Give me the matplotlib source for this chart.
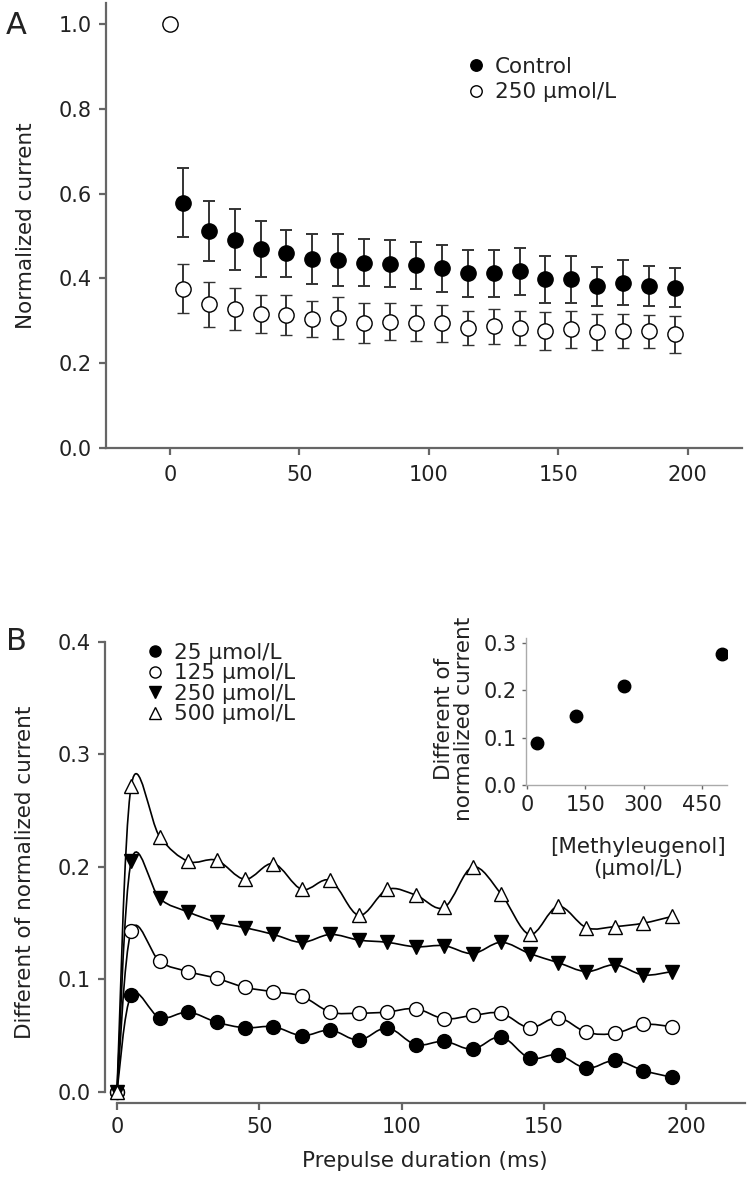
import numpy as np
import matplotlib.pyplot as plt
from matplotlib.path import Path
from matplotlib.patches import PathPatch

# panel A: normalized current vs prepulse duration
t_ctrl = np.arange(5, 200, 10)
ctrl = [0.579, 0.512, 0.491, 0.470, 0.459, 0.446, 0.443, 0.437, 0.435, 0.431,
        0.424, 0.412, 0.412, 0.417, 0.398, 0.398, 0.382, 0.390, 0.382, 0.378]
ctrl_err = [0.081, 0.071, 0.072, 0.066, 0.056, 0.059, 0.061, 0.055, 0.055, 0.056,
            0.056, 0.056, 0.056, 0.055, 0.056, 0.055, 0.046, 0.053, 0.047, 0.046]
t_drug = np.concatenate([[0], np.arange(5, 200, 10)])
drug = [1.0, 0.376, 0.339, 0.328, 0.317, 0.314, 0.305, 0.307, 0.295, 0.298, 0.295,
        0.294, 0.283, 0.287, 0.283, 0.276, 0.280, 0.274, 0.276, 0.275, 0.268]
drug_err = [0, 0.057, 0.053, 0.049, 0.045, 0.047, 0.043, 0.049, 0.047, 0.044, 0.042,
            0.044, 0.041, 0.042, 0.041, 0.045, 0.044, 0.042, 0.041, 0.039, 0.044]

# panel B: difference of normalized current
t_b = np.concatenate([[0], np.arange(5, 200, 10)])
b25 = [0, 0.086, 0.066, 0.071, 0.062, 0.057, 0.058, 0.050, 0.055, 0.046, 0.057,
       0.042, 0.045, 0.038, 0.049, 0.030, 0.033, 0.021, 0.028, 0.019, 0.013]
b125 = [0, 0.143, 0.116, 0.107, 0.101, 0.093, 0.089, 0.085, 0.071, 0.070, 0.071,
        0.074, 0.065, 0.068, 0.070, 0.057, 0.066, 0.053, 0.052, 0.060, 0.058]
b250 = [0, 0.205, 0.172, 0.160, 0.151, 0.146, 0.140, 0.133, 0.140, 0.135, 0.133,
        0.129, 0.130, 0.123, 0.133, 0.123, 0.115, 0.107, 0.113, 0.104, 0.107]
b500 = [0, 0.272, 0.227, 0.205, 0.206, 0.189, 0.203, 0.180, 0.188, 0.157, 0.180,
        0.175, 0.164, 0.200, 0.176, 0.140, 0.165, 0.146, 0.147, 0.150, 0.156]
b_labels = ['25 µmol/L', '125 µmol/L', '250 µmol/L', '500 µmol/L']

# inset
conc = [25, 125, 250, 500]
diff = [0.089, 0.146, 0.209, 0.277]

TICK = 15
LAB = 15.5
LEG = 15.5
SPINE = '#666666'
TXT = '#222222'

plt.rcParams['font.family'] = ['DejaVu Sans']
plt.rcParams['text.color'] = TXT
plt.rcParams['axes.labelcolor'] = TXT
plt.rcParams['xtick.color'] = SPINE
plt.rcParams['ytick.color'] = SPINE
plt.rcParams['xtick.labelcolor'] = TXT
plt.rcParams['ytick.labelcolor'] = TXT


def smooth_path(x, y):
    # Catmull-Rom style bezier through the data points
    pts = np.column_stack([x, y])
    verts = [pts[0]]
    codes = [Path.MOVETO]
    n = len(pts)
    for i in range(n - 1):
        p0 = pts[max(i - 1, 0)]
        p1 = pts[i]
        p2 = pts[i + 1]
        p3 = pts[min(i + 2, n - 1)]
        verts += [p1 + (p2 - p0) / 6, p2 - (p3 - p1) / 6, p2]
        codes += [Path.CURVE4] * 3
    return Path(verts, codes)


def style(ax, lw=1.6, color=SPINE):
    for s in ['top', 'right']:
        ax.spines[s].set_visible(False)
    for s in ['left', 'bottom']:
        ax.spines[s].set_color(color)
        ax.spines[s].set_linewidth(lw)
    ax.tick_params(labelsize=TICK, width=lw, length=5, direction='out', pad=5)


fig = plt.figure(figsize=(7.5, 11.88), dpi=100)

# ---- panel A
axA = fig.add_axes([0.1413, 0.6229, 0.848, 0.3746])
style(axA)
e1 = axA.errorbar(t_ctrl, ctrl, yerr=ctrl_err, fmt='o', ms=11, mfc='black', mec='black',
                  ecolor='#333333', elinewidth=1.4, capsize=4.5, capthick=1.4, zorder=3)
e2 = axA.errorbar(t_drug, drug, yerr=drug_err, fmt='o', ms=11, mfc='white', mec='black',
                  mew=1.0, ecolor='#333333', elinewidth=1.4, capsize=4.5, capthick=1.4, zorder=3)
axA.set_xlim(-24.7, 220.9)
axA.set_ylim(0, 1.05)
axA.set_xticks([0, 50, 100, 150, 200])
axA.set_yticks([0, 0.2, 0.4, 0.6, 0.8, 1.0])
axA.yaxis.set_major_formatter(plt.FormatStrFormatter('%.1f'))
axA.tick_params(axis='x', pad=7)
axA.set_ylabel('Normalized current', fontsize=LAB)
axA.yaxis.set_label_coords(-0.11, 0.5)
axA.legend([e1[0], e2[0]], ['Control', '250 µmol/L'], fontsize=LEG, frameon=False,
           loc='upper left', bbox_to_anchor=(454 / 750, 1 - 46 / 1188),
           bbox_transform=fig.transFigure, borderpad=0, handlelength=1.0,
           handletextpad=0.4, labelspacing=0.25, markerscale=0.75)
fig.text(6 / 750, 1 - 25 / 1188, 'A', fontsize=22, va='center', ha='left')

# ---- panel B
axB = fig.add_axes([0.14, 0.0716, 0.8533, 0.388])
style(axB)
axB.spines['left'].set_bounds(0, 0.4)
axB.set_xlim(-4.2, 220.7)
axB.set_ylim(-0.0098, 0.4)
axB.spines['bottom'].set_bounds(0, 220.7)
series = [b25, b125, b250, b500]
markers = [('o', 'black'), ('o', 'white'), ('v', 'black'), ('^', 'white')]
handles = []
for vals, (m, fc) in zip(series, markers):
    axB.add_patch(PathPatch(smooth_path(t_b, vals), fill=False, ec='black', lw=1.2, zorder=2))
for vals, (m, fc) in zip(series, markers):
    h, = axB.plot(t_b, vals, ls='none', marker=m, ms=10, mfc=fc, mec='black', mew=1.0, zorder=3)
    handles.append(h)
axB.set_xticks([0, 50, 100, 150, 200])
axB.set_yticks([0, 0.1, 0.2, 0.3, 0.4])
axB.yaxis.set_major_formatter(plt.FormatStrFormatter('%.1f'))
axB.set_xlabel('Prepulse duration (ms)', fontsize=LAB, labelpad=10)
axB.set_ylabel('Different of normalized current', fontsize=LAB)
axB.yaxis.set_label_coords(-0.11, 0.5)
axB.legend(handles, b_labels, fontsize=LEG, frameon=False, loc='upper left',
           bbox_to_anchor=(133 / 750, 1 - 632 / 1188), bbox_transform=fig.transFigure,
           borderpad=0, handlelength=1.0, handletextpad=0.4, labelspacing=0.02,
           markerscale=0.8)
fig.text(6 / 750, 1 - 642 / 1188, 'B', fontsize=22, va='center', ha='left')

# ---- inset
axI = fig.add_axes([0.7013, 0.3392, 0.268, 0.1238])
style(axI, lw=1.0, color='#aaaaaa')
axI.plot(conc, diff, ls='none', marker='o', ms=9, color='black')
axI.set_xlim(-2.6, 514)
axI.set_ylim(0, 0.31)
axI.spines['left'].set_bounds(0, 0.31)
axI.set_xticks([0, 150, 300, 450])
axI.set_yticks([0, 0.1, 0.2, 0.3])
axI.yaxis.set_major_formatter(plt.FormatStrFormatter('%.1f'))
axI.tick_params(length=3, pad=4)
axI.set_ylabel('Different of\nnormalized current', fontsize=LAB, linespacing=1.0)
axI.yaxis.set_label_coords(-0.26, 0.45)
fig.text(638 / 750, 1 - 858 / 1188, '[Methyleugenol]\n(µmol/L)', fontsize=LAB,
         ha='center', va='center', multialignment='center', linespacing=1.1)

fig.savefig('out.png', dpi=100)
